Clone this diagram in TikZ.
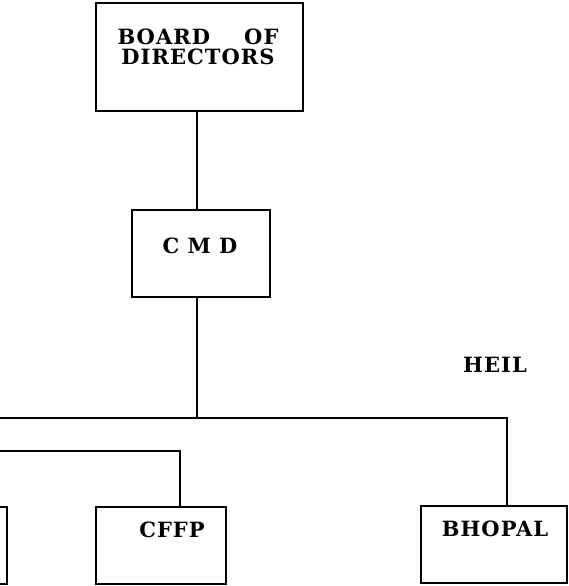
\documentclass[tikz,border=0pt]{standalone}
\usepackage{fontspec}
\setmainfont{DejaVu Serif}
\newfontfamily\chartfont[LetterSpace=5]{DejaVu Serif}
\begin{document}
\begin{tikzpicture}[x=1pt,y=-1pt,
  box/.style={draw, line width=2.8pt, rectangle, inner sep=0pt},
  lbl/.style={font=\chartfont\bfseries\fontsize{21}{21}\selectfont, inner sep=0pt, anchor=base},
  link/.style={line width=2.6pt}]
\useasboundingbox (0,0) rectangle (569,586);
\clip (0,0) rectangle (569,586);
% boxes
\node[box, minimum width=207pt, minimum height=108pt] (board) at (199.5,57) {};
\node[box, minimum width=138pt, minimum height=87pt] (cmd) at (201,253.5) {};
\node[box, minimum width=130pt, minimum height=77pt] (cffp) at (161,545.5) {};
\node[box, minimum width=146pt, minimum height=77pt] (bhopal) at (494,544.5) {};
\node[box, minimum width=130pt, minimum height=77pt] (left) at (-58,545.5) {};
% labels
\node[lbl] (t1) at (198,45) {\makebox[161pt]{BOARD\hfill OF}};
\node[lbl] (t2) at (198,65) {DIRECTORS};
\node[lbl] (t3) at (200,253) {C M D};
\node[lbl] (t4) at (172,537) {CFFP};
\node[lbl] (t5) at (495,536) {BHOPAL};
\node[lbl] (heil) at (495,372) {HEIL};
% connectors
\coordinate (stem) at (197,0);
\coordinate (J1) at (507,418);
\coordinate (L1) at (-5,418);
\coordinate (J2) at (180,451);
\coordinate (L2) at (-5,451);
\draw[link] (board.south -| stem) -- (cmd.north -| stem);
\draw[link] (cmd.south -| stem) -- (stem |- J1);
\draw[link] (L1) -- (J1) -- (J1 |- bhopal.north);
\draw[link] (L2) -- (J2) -- (J2 |- cffp.north);
\end{tikzpicture}
\end{document}
